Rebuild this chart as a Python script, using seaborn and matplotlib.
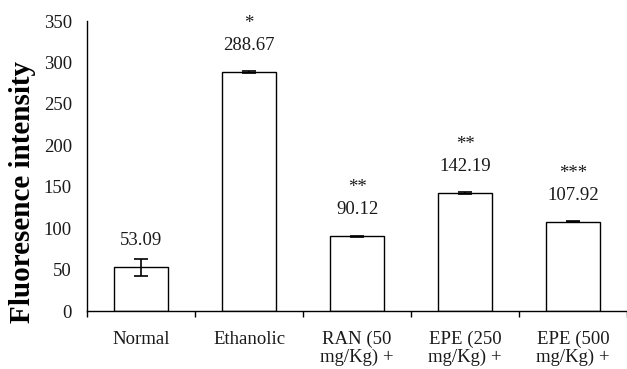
import matplotlib
matplotlib.use("Agg")
import matplotlib.pyplot as plt
import seaborn as sns
import pandas as pd
from matplotlib.ticker import FixedLocator

categories = ["Normal", "Ethanolic", "RAN (50\nmg/Kg) +", "EPE (250\nmg/Kg) +", "EPE (500\nmg/Kg) +"]
values = [53.09, 288.67, 90.12, 142.19, 107.92]
errors = [10.3, 1.0, 1.0, 1.0, 1.0]
labels = ["53.09", "288.67", "90.12", "142.19", "107.92"]
stars = ["", "*", "**", "**", "***"]
yticks = [0, 50, 100, 150, 200, 250, 300, 350]

sns.set_theme(style="white")
plt.rcParams["font.family"] = ["Liberation Serif", "DejaVu Serif"]

df = pd.DataFrame({"cat": categories, "val": values})

fig = plt.figure(figsize=(6.27, 3.69), dpi=100)
ax = fig.add_axes([0.139, 0.157, 0.861, 0.786])

sns.barplot(data=df, x="cat", y="val", ax=ax, color="white", edgecolor="black",
            linewidth=1.0, width=0.5, errorbar=None, saturation=1)

xs = list(range(len(categories)))
ax.errorbar(xs, values, yerr=errors, fmt="none", ecolor="black", elinewidth=1.2,
            capsize=5, capthick=1.2)

for x, v, lab, st in zip(xs, values, labels, stars):
    ax.annotate(lab, (x, v), xytext=(0, 19), textcoords="offset points",
                ha="center", va="center", fontsize=13.5, color="#1a1a1a")
    if st:
        ax.annotate(st, (x, v), xytext=(0, 35), textcoords="offset points",
                    ha="center", va="center", fontsize=13.5, color="#1a1a1a")

ax.set_ylim(0, 350)
ax.set_xlim(-0.5, len(categories) - 0.5)
ax.set_yticks(yticks)
ax.set_yticklabels([str(t) for t in yticks], fontsize=13.5, color="#1a1a1a")
ax.set_xticks(xs)
ax.set_xticklabels(categories, fontsize=13.5, color="#1a1a1a", linespacing=1.05)
ax.xaxis.set_minor_locator(FixedLocator([i - 0.5 for i in range(len(categories) + 1)]))
ax.tick_params(axis="x", which="major", length=0, pad=14)
ax.tick_params(axis="x", which="minor", length=4, width=1, color="black", direction="out", bottom=True)
ax.tick_params(axis="y", which="major", length=0, pad=11)

ax.set_xlabel("")
ax.set_ylabel("Fluoresence intensity", fontsize=21, fontweight="bold", color="black")
ax.yaxis.set_label_coords(-0.094, 0.41)

for s in ["top", "right"]:
    ax.spines[s].set_visible(False)
for s in ["left", "bottom"]:
    ax.spines[s].set_color("black")
    ax.spines[s].set_linewidth(1.0)
ax.set_facecolor("white")
fig.patch.set_facecolor("white")

fig.savefig("out.png", dpi=100)
